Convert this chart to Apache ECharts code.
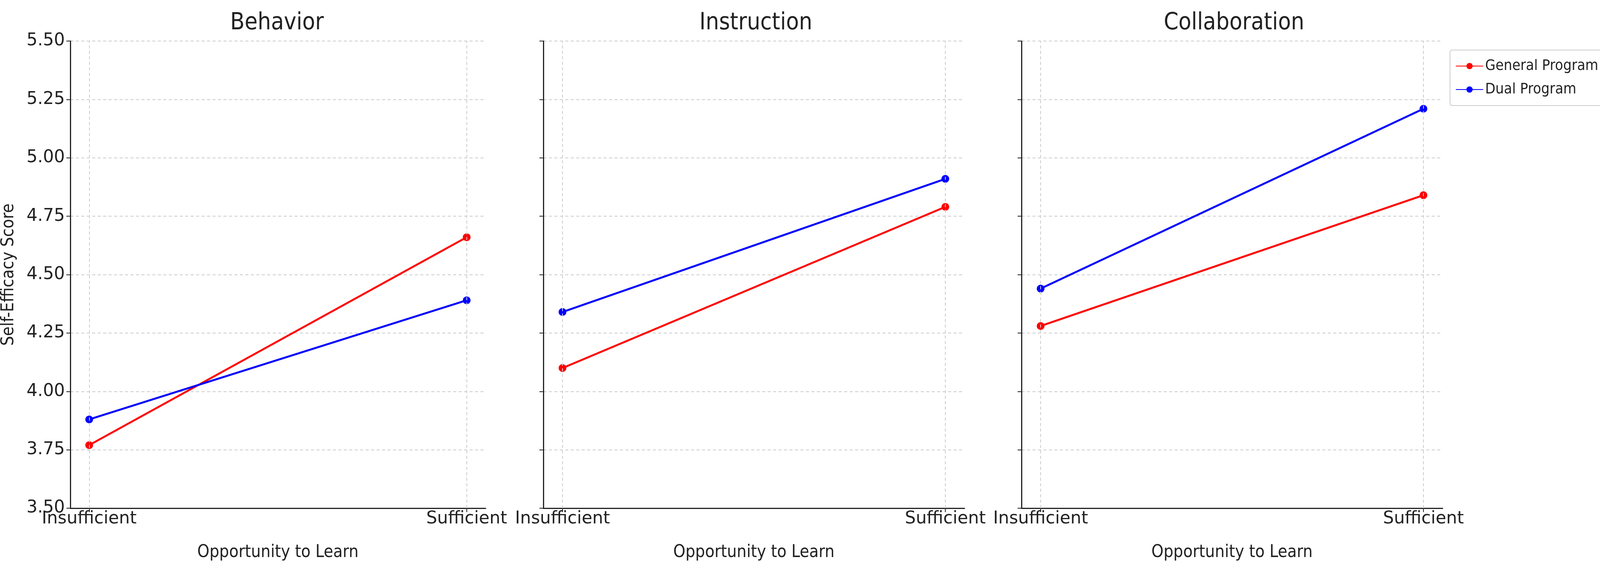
<!DOCTYPE html>
<html>
<head>
<meta charset="utf-8">
<script src="https://cdn.jsdelivr.net/npm/echarts@6/dist/echarts.min.js"></script>
<style>html,body{margin:0;background:#fff}#chart{width:4117px;height:1453px}</style>
</head>
<body>
<div id="chart"></div>
<script>
var panels = ['Behavior', 'Instruction', 'Collaboration'];
var levels = ['Insufficient', 'Sufficient'];
var generalProgram = [[3.77, 4.66], [4.10, 4.79], [4.28, 4.84]];
var dualProgram = [[3.88, 4.39], [4.34, 4.91], [4.44, 5.21]];
var yTicks = [3.5, 3.75, 4.0, 4.25, 4.5, 4.75, 5.0, 5.25, 5.5];

var chart = echarts.init(document.getElementById('chart'));
var lefts = [165, 1391, 2615];
var grids = [], xAxes = [], yAxes = [], series = [], titles = [];

for (var i = 0; i < panels.length; i++) {
    grids.push({left: lefts[i], width: 1078, top: 105, height: 1195});
    titles.push({
        text: panels[i], left: lefts[i] + 539, top: 24, textAlign: 'center',
        textStyle: {fontFamily: 'DejaVu Sans Condensed', fontWeight: 'normal', fontSize: 60, color: '#222'}
    });
    xAxes.push({
        type: 'value', gridIndex: i, min: -0.05, max: 1.05,
        name: 'Opportunity to Learn', nameLocation: 'middle', nameGap: 92,
        nameTextStyle: {fontFamily: 'DejaVu Sans Condensed', fontSize: 44, color: '#222'},
        axisLine: {onZero: false, lineStyle: {color: '#222', width: 3}},
        axisTick: {customValues: [0, 1], length: 10, lineStyle: {color: '#222', width: 2}},
        axisLabel: {customValues: [0, 1], fontFamily: 'DejaVu Sans', fontSize: 44, color: '#222', margin: 6,
            formatter: function (v) { return levels[Math.round(v)]; }},
        splitLine: {show: false}
    });
    yAxes.push({
        type: 'value', gridIndex: i, min: 3.5, max: 5.5, interval: 0.25,
        name: i === 0 ? 'Self-Efficacy Score' : '', nameLocation: 'middle', nameGap: 135,
        nameTextStyle: {fontFamily: 'DejaVu Sans Condensed', fontSize: 44, color: '#222'},
        axisLine: {show: true, onZero: false, lineStyle: {color: '#222', width: 3}},
        axisTick: {show: true, inside: false, length: 10, lineStyle: {color: '#222', width: 2}},
        axisLabel: {show: i === 0, fontFamily: 'DejaVu Sans', fontSize: 44, color: '#222', margin: 14,
            formatter: function (v) { return v.toFixed(2); }},
        splitLine: {lineStyle: {color: '#cccccc', type: [8, 6], width: 2}}
    });
    series.push({
        name: 'General Program', type: 'line', xAxisIndex: i, yAxisIndex: i,
        data: [[0, generalProgram[i][0]], [1, generalProgram[i][1]]],
        color: '#ff0000', lineStyle: {width: 5}, symbol: 'circle', symbolSize: 20,
        markLine: {silent: true, symbol: 'none', label: {show: false},
            lineStyle: {color: '#cccccc', type: [8, 6], width: 2}, data: [{xAxis: 0}, {xAxis: 1}]}
    });
    series.push({
        name: 'Dual Program', type: 'line', xAxisIndex: i, yAxisIndex: i,
        data: [[0, dualProgram[i][0]], [1, dualProgram[i][1]]],
        color: '#0000ff', lineStyle: {width: 5}, symbol: 'circle', symbolSize: 20
    });
}

chart.setOption({
    animation: false,
    title: titles,
    legend: {
        data: ['General Program', 'Dual Program'], orient: 'vertical', left: 3712, top: 128,
        itemWidth: 70, itemHeight: 20, itemGap: 22, padding: [22, 20, 22, 14],
        borderColor: '#cccccc', borderWidth: 2, borderRadius: 6,
        textStyle: {fontFamily: 'DejaVu Sans Condensed', fontSize: 38, color: '#222'}
    },
    grid: grids, xAxis: xAxes, yAxis: yAxes, series: series
});
</script>
</body>
</html>
